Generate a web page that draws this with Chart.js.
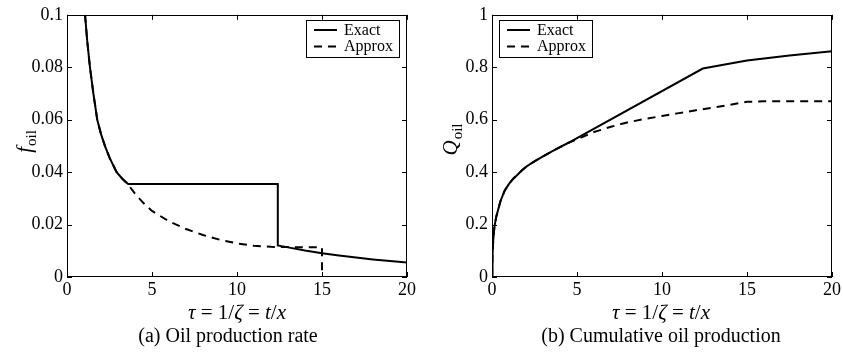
<!DOCTYPE html>
<html><head><meta charset="utf-8">
<script src="https://cdn.jsdelivr.net/npm/chart.js@4/dist/chart.umd.min.js"></script>
<style>
html,body{margin:0;padding:0;background:#fff;}
#wrap{position:relative;width:843px;height:356px;overflow:hidden;background:#fff;}
canvas{position:absolute;top:0;}
</style></head><body>
<div id="wrap">
<canvas id="c1" width="420" height="356" style="left:0"></canvas>
<canvas id="c2" width="423" height="356" style="left:420px"></canvas>
</div>
<script>
// ---------- data ----------
const xTickLabels = ['0','5','10','15','20'];
const yTickLabelsA = ['0','0.02','0.04','0.06','0.08','0.1'];
const yTickLabelsB = ['0','0.2','0.4','0.6','0.8','1'];

// (a) oil production rate
const tauExactA  = [1.06,1.19,1.35,1.55,1.78,2.0,2.23,2.5,2.92,3.25,3.6,12.4,12.4,13,14,15,16,17,18,19,20];
const fExactA    = [0.1,0.09,0.08,0.07,0.06,0.0545,0.05,0.0455,0.04,0.0375,0.0355,0.0355,0.012,0.0113,0.0101,0.0091,0.0082,0.0074,0.0067,0.0061,0.0055];
const tauApproxA = [1.06,1.19,1.35,1.55,1.78,2.0,2.23,2.5,2.92,3.25,3.6,4,4.5,5,6,7,8,9,10,11,12,13,14,15,15];
const fApproxA   = [0.1,0.09,0.08,0.07,0.06,0.0545,0.05,0.0455,0.04,0.0375,0.0352,0.0318,0.0282,0.0252,0.0212,0.0183,0.016,0.0142,0.0128,0.0119,0.0115,0.0114,0.0113,0.0113,0];

// (b) cumulative oil production
const tauExactB  = [0,0.03,0.07,0.14,0.25,0.5,0.75,1.0,1.25,1.5,1.75,2.0,2.25,2.5,3.0,3.5,4.0,4.5,5,12.4,15,17.5,20];
const qExactB    = [0,0.08,0.14,0.19,0.23,0.29,0.33,0.355,0.375,0.39,0.406,0.42,0.431,0.441,0.46,0.478,0.495,0.512,0.53,0.795,0.826,0.845,0.861];
const tauApproxB = [0,0.03,0.07,0.14,0.25,0.5,0.75,1.0,1.25,1.5,1.75,2.0,2.25,2.5,3.0,3.5,4.0,4.5,5,6,7,8,9,10,11,12,13,14,15,16,20];
const qApproxB   = [0,0.08,0.14,0.19,0.23,0.29,0.33,0.355,0.375,0.39,0.406,0.42,0.431,0.441,0.46,0.478,0.495,0.512,0.525,0.553,0.573,0.59,0.603,0.614,0.625,0.636,0.646,0.657,0.668,0.67,0.67];

const seriesNames = ['Exact','Approx'];

// ---------- helpers ----------
const SERIF = '"Liberation Serif","DejaVu Serif",serif';
function pts(xs, ys){ return xs.map((x,i)=>({x:x, y:ys[i]})); }

function drawSegments(ctx, segs, cx, cy, align){
  let total = 0;
  segs.forEach(s=>{ ctx.font = s.f; total += ctx.measureText(s.t).width; });
  let x = align==='center' ? cx - total/2 : cx;
  segs.forEach(s=>{
    ctx.font = s.f;
    ctx.fillText(s.t, x, cy + (s.dy||0));
    x += ctx.measureText(s.t).width;
  });
}

const decor = {
  id:'decor',
  afterDraw(chart, args, o){
    const ctx = chart.ctx, a = chart.chartArea;
    const xs = chart.scales.x, ys = chart.scales.y;
    ctx.save();
    ctx.strokeStyle = '#000'; ctx.fillStyle = '#000'; ctx.lineWidth = 1; ctx.setLineDash([]);
    // frame
    ctx.strokeRect(Math.round(a.left)+0.5, Math.round(a.top)+0.5, Math.round(a.right-a.left)-1, Math.round(a.bottom-a.top)-1);
    // inward ticks on all sides
    ctx.beginPath();
    xs.ticks.forEach(t=>{
      const p = Math.round(xs.getPixelForValue(t.value))+0.5;
      ctx.moveTo(p, a.bottom); ctx.lineTo(p, a.bottom-5);
      ctx.moveTo(p, a.top); ctx.lineTo(p, a.top+5);
    });
    ys.ticks.forEach(t=>{
      const p = Math.round(ys.getPixelForValue(t.value))+0.5;
      ctx.moveTo(a.left, p); ctx.lineTo(a.left+5, p);
      ctx.moveTo(a.right, p); ctx.lineTo(a.right-5, p);
    });
    ctx.stroke();

    // x title: τ = 1/ζ = t/x
    ctx.textBaseline = 'middle';
    const it = 'italic 21px '+SERIF, rm = '21px '+SERIF;
    drawSegments(ctx, [
      {t:'\u03C4', f:it},{t:' = 1/', f:rm},{t:'\u03B6', f:it},{t:' = ', f:rm},
      {t:'t', f:it},{t:'/', f:rm},{t:'x', f:it}
    ], o.xTitleX, 313, 'center');

    // caption
    ctx.font = '20px '+SERIF; ctx.textAlign = 'center';
    ctx.fillText(o.caption, o.captionX, 337);
    ctx.textAlign = 'left';

    // y title, rotated
    ctx.save();
    ctx.translate(o.yTitleX, o.yTitleY);
    ctx.rotate(-Math.PI/2);
    ctx.textBaseline = 'alphabetic';
    ctx.font = 'italic 21px '+SERIF;
    const mw = ctx.measureText(o.yMain).width;
    ctx.font = '15px '+SERIF;
    const sw = ctx.measureText('oil').width;
    const start = -(mw+sw)/2;
    ctx.font = 'italic 21px '+SERIF;
    ctx.fillText(o.yMain, start, 7);
    ctx.font = '15px '+SERIF;
    ctx.fillText('oil', start+mw+1, 12);
    ctx.restore();

    // legend box
    const L = o.legend;
    ctx.lineWidth = 1;
    ctx.strokeRect(L.x+0.5, L.y+0.5, L.w, L.h);
    ctx.font = '16px '+SERIF; ctx.textBaseline = 'middle';
    chart.data.datasets.forEach((ds,i)=>{
      const yy = L.y + 10 + i*16.5;
      ctx.save();
      ctx.lineWidth = 2; ctx.setLineDash(ds.borderDash||[]);
      ctx.beginPath(); ctx.moveTo(L.x+8, yy); ctx.lineTo(L.x+31, yy); ctx.stroke();
      ctx.restore();
      ctx.fillText(ds.label, L.x+38, yy+0.5);
    });
    ctx.restore();
  }
};

function makeChart(id, exX, exY, apX, apY, yMax, yStep, yLabels, padRight, padTop, yWidth, o){
  return new Chart(document.getElementById(id), {
    type:'scatter',
    data:{ datasets:[
      {label:seriesNames[0], data:pts(exX,exY), showLine:true, borderColor:'#000', borderWidth:2, pointRadius:0, tension:0, fill:false, order:0},
      {label:seriesNames[1], data:pts(apX,apY), showLine:true, borderColor:'#000', borderWidth:2, borderDash:[8,6], pointRadius:0, tension:0, fill:false, order:1}
    ]},
    options:{
      responsive:false, animation:false, devicePixelRatio:1,
      layout:{padding:{left:0, right:padRight, top:padTop, bottom:0}},
      plugins:{legend:{display:false}, tooltip:{enabled:false}, decor:o},
      scales:{
        x:{type:'linear', min:0, max:20,
           ticks:{stepSize:5, color:'#000', font:{family:SERIF, size:18}, padding:2, maxRotation:0,
                  callback:(v,i)=>xTickLabels[i]},
           grid:{display:false, drawTicks:false}, border:{display:false},
           afterFit:s=>{ s.height = 79; }},
        y:{type:'linear', min:0, max:yMax,
           ticks:{stepSize:yStep, color:'#000', font:{family:SERIF, size:18}, padding:4,
                  callback:(v,i)=>yLabels[i]},
           grid:{display:false, drawTicks:false}, border:{display:false},
           afterFit:s=>{ s.width = yWidth; }}
      }
    },
    plugins:[decor]
  });
}

makeChart('c1', tauExactA, fExactA, tauApproxA, fApproxA, 0.1, 0.02, yTickLabelsA, 13, 12, 67,
  {caption:'(a) Oil production rate', captionX:228, xTitleX:237, yTitleX:24, yTitleY:142, yMain:'f',
   legend:{x:306, y:20, w:93, h:37}});
makeChart('c2', tauExactB, qExactB, tauApproxB, qApproxB, 1, 0.2, yTickLabelsB, 11, 13, 72,
  {caption:'(b) Cumulative oil production', captionX:241, xTitleX:241, yTitleX:30, yTitleY:140, yMain:'Q',
   legend:{x:79, y:20, w:93, h:37}});
</script>
</body></html>
